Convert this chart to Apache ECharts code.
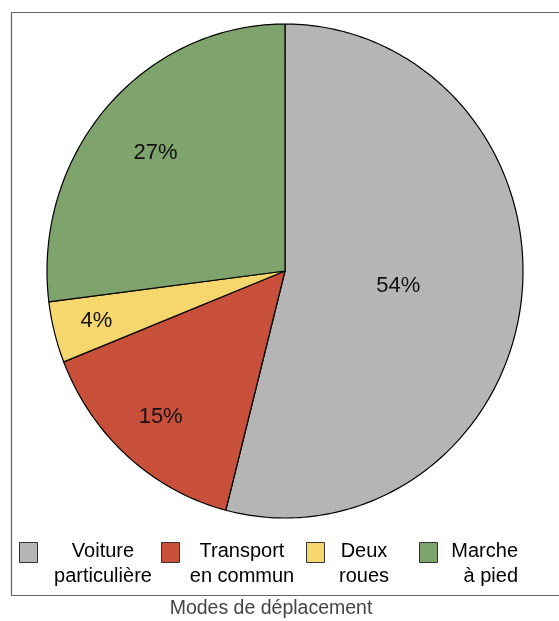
<!DOCTYPE html>
<html>
<head>
<meta charset="utf-8">
<script src="https://cdn.jsdelivr.net/npm/echarts@6/dist/echarts.min.js"></script>
<style>
  html, body { margin: 0; padding: 0; background: #fff; }
  #chart { width: 559px; height: 621px; }
</style>
</head>
<body>
<div id="chart"></div>
<script>
// Travel mode shares (percent)
const categories = ['Voiture particulière', 'Transport en commun', 'Deux roues', 'Marche à pied'];
const shares = [54, 15, 4, 27];
const legendLines = [['Voiture', 'particulière'], ['Transport', 'en commun'], ['Deux', 'roues'], ['Marche', 'à pied']];
const axisTitle = 'Modes de déplacement';

// Styling
const colors = ['#b5b5b5', '#c8503a', '#f5d76d', '#7fa36d'];
const FONT = '"Liberation Sans", Arial, sans-serif';
const legendBoxX = [19, 161, 306, 419];
const legendTextX = [103, 242, 364, 518];
const legendTextAlign = ['center', 'center', 'center', 'right'];

const total = shares.reduce((a, b) => a + b, 0);
const starts = [];
shares.reduce((acc, v, i) => { starts[i] = acc; return acc + v; }, 0);

const chart = echarts.init(document.getElementById('chart'), null, { renderer: 'canvas' });

function renderSlice(params, api) {
  const i = api.value(0);
  const v = api.value(1);
  const a0 = starts[i] / total * 2 * Math.PI;
  const a1 = (starts[i] + v) / total * 2 * Math.PI;
  const steps = Math.max(4, Math.ceil((a1 - a0) / (Math.PI / 180)));
  const pts = [api.coord([0, 0])];
  for (let k = 0; k <= steps; k++) {
    const a = a0 + (a1 - a0) * k / steps;
    pts.push(api.coord([Math.sin(a), Math.cos(a)]));
  }
  // label at a scaled sector centroid
  const half = (a1 - a0) / 2;
  const mid = a0 + half;
  const r = 0.82 * Math.sin(half) / half;
  const lp = api.coord([r * Math.sin(mid), r * Math.cos(mid)]);
  return {
    type: 'group',
    children: [
      {
        type: 'polygon',
        shape: { points: pts },
        style: { fill: colors[i], stroke: '#000', lineWidth: 1.2, lineJoin: 'round' }
      },
      {
        type: 'text',
        x: lp[0], y: lp[1],
        style: {
          text: v + '%', fill: '#111', font: '22px ' + FONT,
          align: 'center', verticalAlign: 'middle'
        },
        z2: 10
      }
    ]
  };
}

const graphics = [
  {
    type: 'rect',
    shape: { x: 11.5, y: 12.5, width: 560, height: 583 },
    style: { fill: null, stroke: '#666', lineWidth: 1.2 },
    silent: true
  },
  {
    type: 'text',
    x: 271, y: 609,
    style: { text: axisTitle, fill: '#444', font: '19.5px ' + FONT, align: 'center', verticalAlign: 'middle' }
  }
];
categories.forEach((c, i) => {
  graphics.push({
    type: 'rect',
    shape: { x: legendBoxX[i] + 0.5, y: 542.5, width: 18, height: 20 },
    style: { fill: colors[i], stroke: '#333', lineWidth: 1 }
  });
  legendLines[i].forEach((line, j) => {
    graphics.push({
      type: 'text',
      x: legendTextX[i], y: 551 + j * 25,
      style: { text: line, fill: '#000', font: '20px ' + FONT, align: legendTextAlign[i], verticalAlign: 'middle' }
    });
  });
});

chart.setOption({
  animation: false,
  backgroundColor: '#fff',
  grid: { left: 47, top: 24, width: 476, height: 494 },
  xAxis: { type: 'value', min: -1, max: 1, show: false },
  yAxis: { type: 'value', min: -1, max: 1, show: false },
  series: [{
    type: 'custom',
    name: axisTitle,
    renderItem: renderSlice,
    data: shares.map((v, i) => ({ name: categories[i], value: [i, v] })),
    clip: false
  }],
  graphic: graphics
});
</script>
</body>
</html>
